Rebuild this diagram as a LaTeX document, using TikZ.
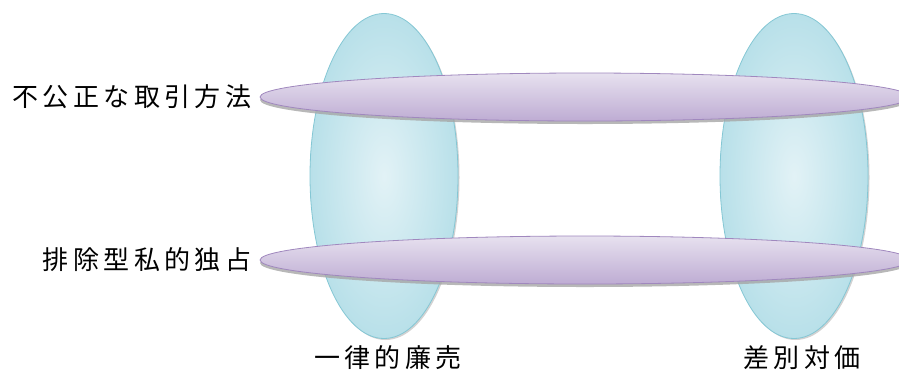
\documentclass[tikz,border=0pt]{standalone}
\usepackage{fontspec}
\newfontfamily\jpfont[LetterSpace=17]{Noto Sans CJK JP}
\usetikzlibrary{positioning,shapes.geometric,shadows}

\definecolor{lensin}{HTML}{E2F2F6}
\definecolor{lensout}{HTML}{B8E0E9}
\definecolor{lensline}{HTML}{84C7D4}
\definecolor{bandtop}{HTML}{E7E1EF}
\definecolor{bandbot}{HTML}{BEACD3}
\definecolor{bandline}{HTML}{A088BE}

\begin{document}
\begin{tikzpicture}[
x=1pt, y=-1pt,
lens/.style={ellipse, draw=lensline, line width=0.8pt, inner sep=0pt,
  minimum width=148pt, minimum height=325pt,
  inner color=lensin, outer color=lensout,
  drop shadow={shadow xshift=1.5pt, shadow yshift=-1.5pt, fill=gray!50, opacity=.7}},
band/.style={ellipse, draw=bandline, line width=0.8pt, inner sep=0pt,
  minimum width=650pt, minimum height=48pt,
  top color=bandtop, bottom color=bandbot,
  drop shadow={shadow xshift=0pt, shadow yshift=-3pt, fill=gray!70, opacity=.8}},
label/.style={font=\jpfont\fontsize{26}{26}\selectfont, inner sep=0pt}
]
\useasboundingbox (0,0) rectangle (899,376);
\clip (0,0) rectangle (899,376);

% vertical groups
\node[lens] (vleft) at (384,176) {};
\node[lens] (vright) at (794,176) {};

% horizontal groups
\node[band] (htop) at (585,97) {};
\node[band] (hbottom) at (585,260) {};

% labels
\node[label, left=8pt of htop] (ltop) {不公正な取引方法};
\node[label, left=8pt of hbottom] (lbottom) {排除型私的独占};
\node[label, below=6pt of vleft, xshift=4pt] (lleft) {一律的廉売};
\node[label, below=6pt of vright, xshift=8pt] (lright) {差別対価};

\end{tikzpicture}
\end{document}
